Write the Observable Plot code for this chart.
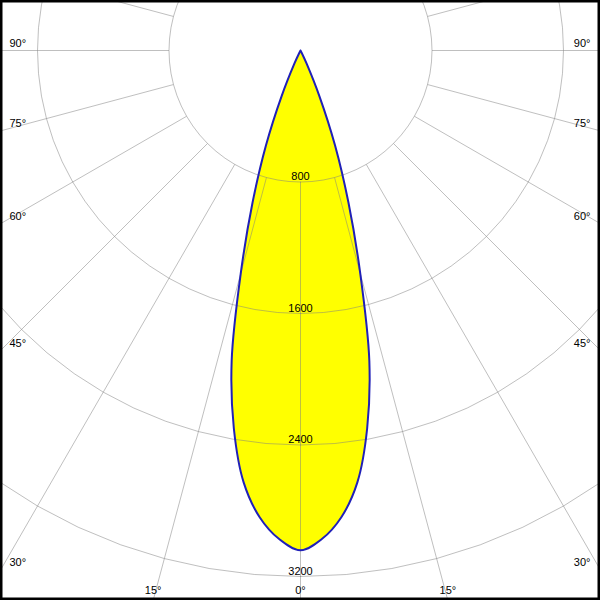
<!DOCTYPE html>
<html><head><meta charset="utf-8">
<script src="https://cdn.jsdelivr.net/npm/d3@7"></script>
<script src="https://cdn.jsdelivr.net/npm/@observablehq/plot@0.6"></script>
<style>body{margin:0;background:#fff}</style>
</head><body><div id="chart"></div>
<script>
// Luminous intensity (cd) vs. gamma angle (deg), symmetric beam
const gammaDeg    = [0, 2.5, 5, 7.5, 10, 12.5, 15, 17.5, 20, 22.5, 25, 27.5, 30];
const intensityCd = [3040, 2975, 2850, 2650, 2335, 1935, 1405, 970, 615, 300, 90, 15, 0];

const ringValues = [800, 1600, 2400, 3200, 4000];
const ringLabels = ["800", "1600", "2400", "3200"];
const spokeAngles = [0,15,30,45,60,75,90,105,120,135,150,165,180,195,210,225,240,255,270,285,300,315,330,345];
const sideAngles = [90, 75, 60, 45, 30];
const sideLabels = ["90°", "75°", "60°", "45°", "30°"];
const bottomAngles = [-15, 0, 15];
const bottomLabels = ["15°", "0°", "15°"];

const X = 1825.1, YTOP = 304.2, YBOT = 3346;
const rad = d => d * Math.PI / 180;
const pol = (g, r) => ({x: r * Math.sin(rad(g)), y: -r * Math.cos(rad(g))});

// lobe outline from -30° through 0° to +30°
const lobe = [];
for (let i = gammaDeg.length - 1; i >= 1; i--) lobe.push(pol(-gammaDeg[i], intensityCd[i]));
for (let i = 0; i < gammaDeg.length; i++) lobe.push(pol(gammaDeg[i], intensityCd[i]));

const rings = [];
for (const r of ringValues) for (let a = 0; a <= 360; a += 5) rings.push({r, ...pol(a, r)});

const spokes = spokeAngles.map(a => {
  const p1 = pol(a, ringValues[0]), p2 = pol(a, 4200);
  return {x1: p1.x, y1: p1.y, x2: p2.x, y2: p2.y};
});

const ringText = ringLabels.map((t, i) => ({t, x: 0, y: -ringValues[i]}));
const leftText = sideAngles.map((a, i) => ({t: sideLabels[i], x: -X, y: -X * Math.cos(rad(a)) / Math.sin(rad(a))}));
const rightText = sideAngles.map((a, i) => ({t: sideLabels[i], x: X, y: -X * Math.cos(rad(a)) / Math.sin(rad(a))}));
const bottomText = bottomAngles.map((a, i) => ({t: bottomLabels[i], x: YBOT * Math.tan(rad(a)), y: -YBOT}));

const chart = Plot.plot({
  width: 600, height: 600,
  margin: 0,
  style: {fontFamily: "'Liberation Sans', Arial, sans-serif", fontSize: "11px", background: "white"},
  x: {domain: [-X, X], axis: null},
  y: {domain: [-YBOT, YTOP], axis: null},
  marks: [
    Plot.line(lobe, {x: "x", y: "y", fill: "#ffff00", stroke: "none", curve: "catmull-rom"}),
    Plot.text(ringText, {x: "x", y: "y", text: "t", textAnchor: "middle", lineAnchor: "bottom", dy: -2, fill: "black"}),
    Plot.line(rings, {x: "x", y: "y", z: "r", stroke: "#808080", strokeOpacity: 0.5, strokeWidth: 1, clip: true}),
    Plot.link(spokes, {x1: "x1", y1: "y1", x2: "x2", y2: "y2", stroke: "#808080", strokeOpacity: 0.5, strokeWidth: 1, clip: true}),
    Plot.line(lobe, {x: "x", y: "y", stroke: "#2020b8", strokeWidth: 2, curve: "catmull-rom"}),
    Plot.text(leftText, {x: "x", y: "y", text: "t", textAnchor: "start", lineAnchor: "bottom", dx: 9, dy: -4, fill: "black"}),
    Plot.text(rightText, {x: "x", y: "y", text: "t", textAnchor: "end", lineAnchor: "bottom", dx: -10, dy: -4, fill: "black"}),
    Plot.text(bottomText, {x: "x", y: "y", text: "t", textAnchor: "middle", lineAnchor: "bottom", dy: -7, fill: "black"}),
    Plot.frame({stroke: "black", strokeWidth: 3, insetLeft: 0.5, insetTop: 0.5, insetRight: 1.5, insetBottom: 1.5})
  ]
});
document.getElementById("chart").appendChild(chart);
</script>
</body></html>
